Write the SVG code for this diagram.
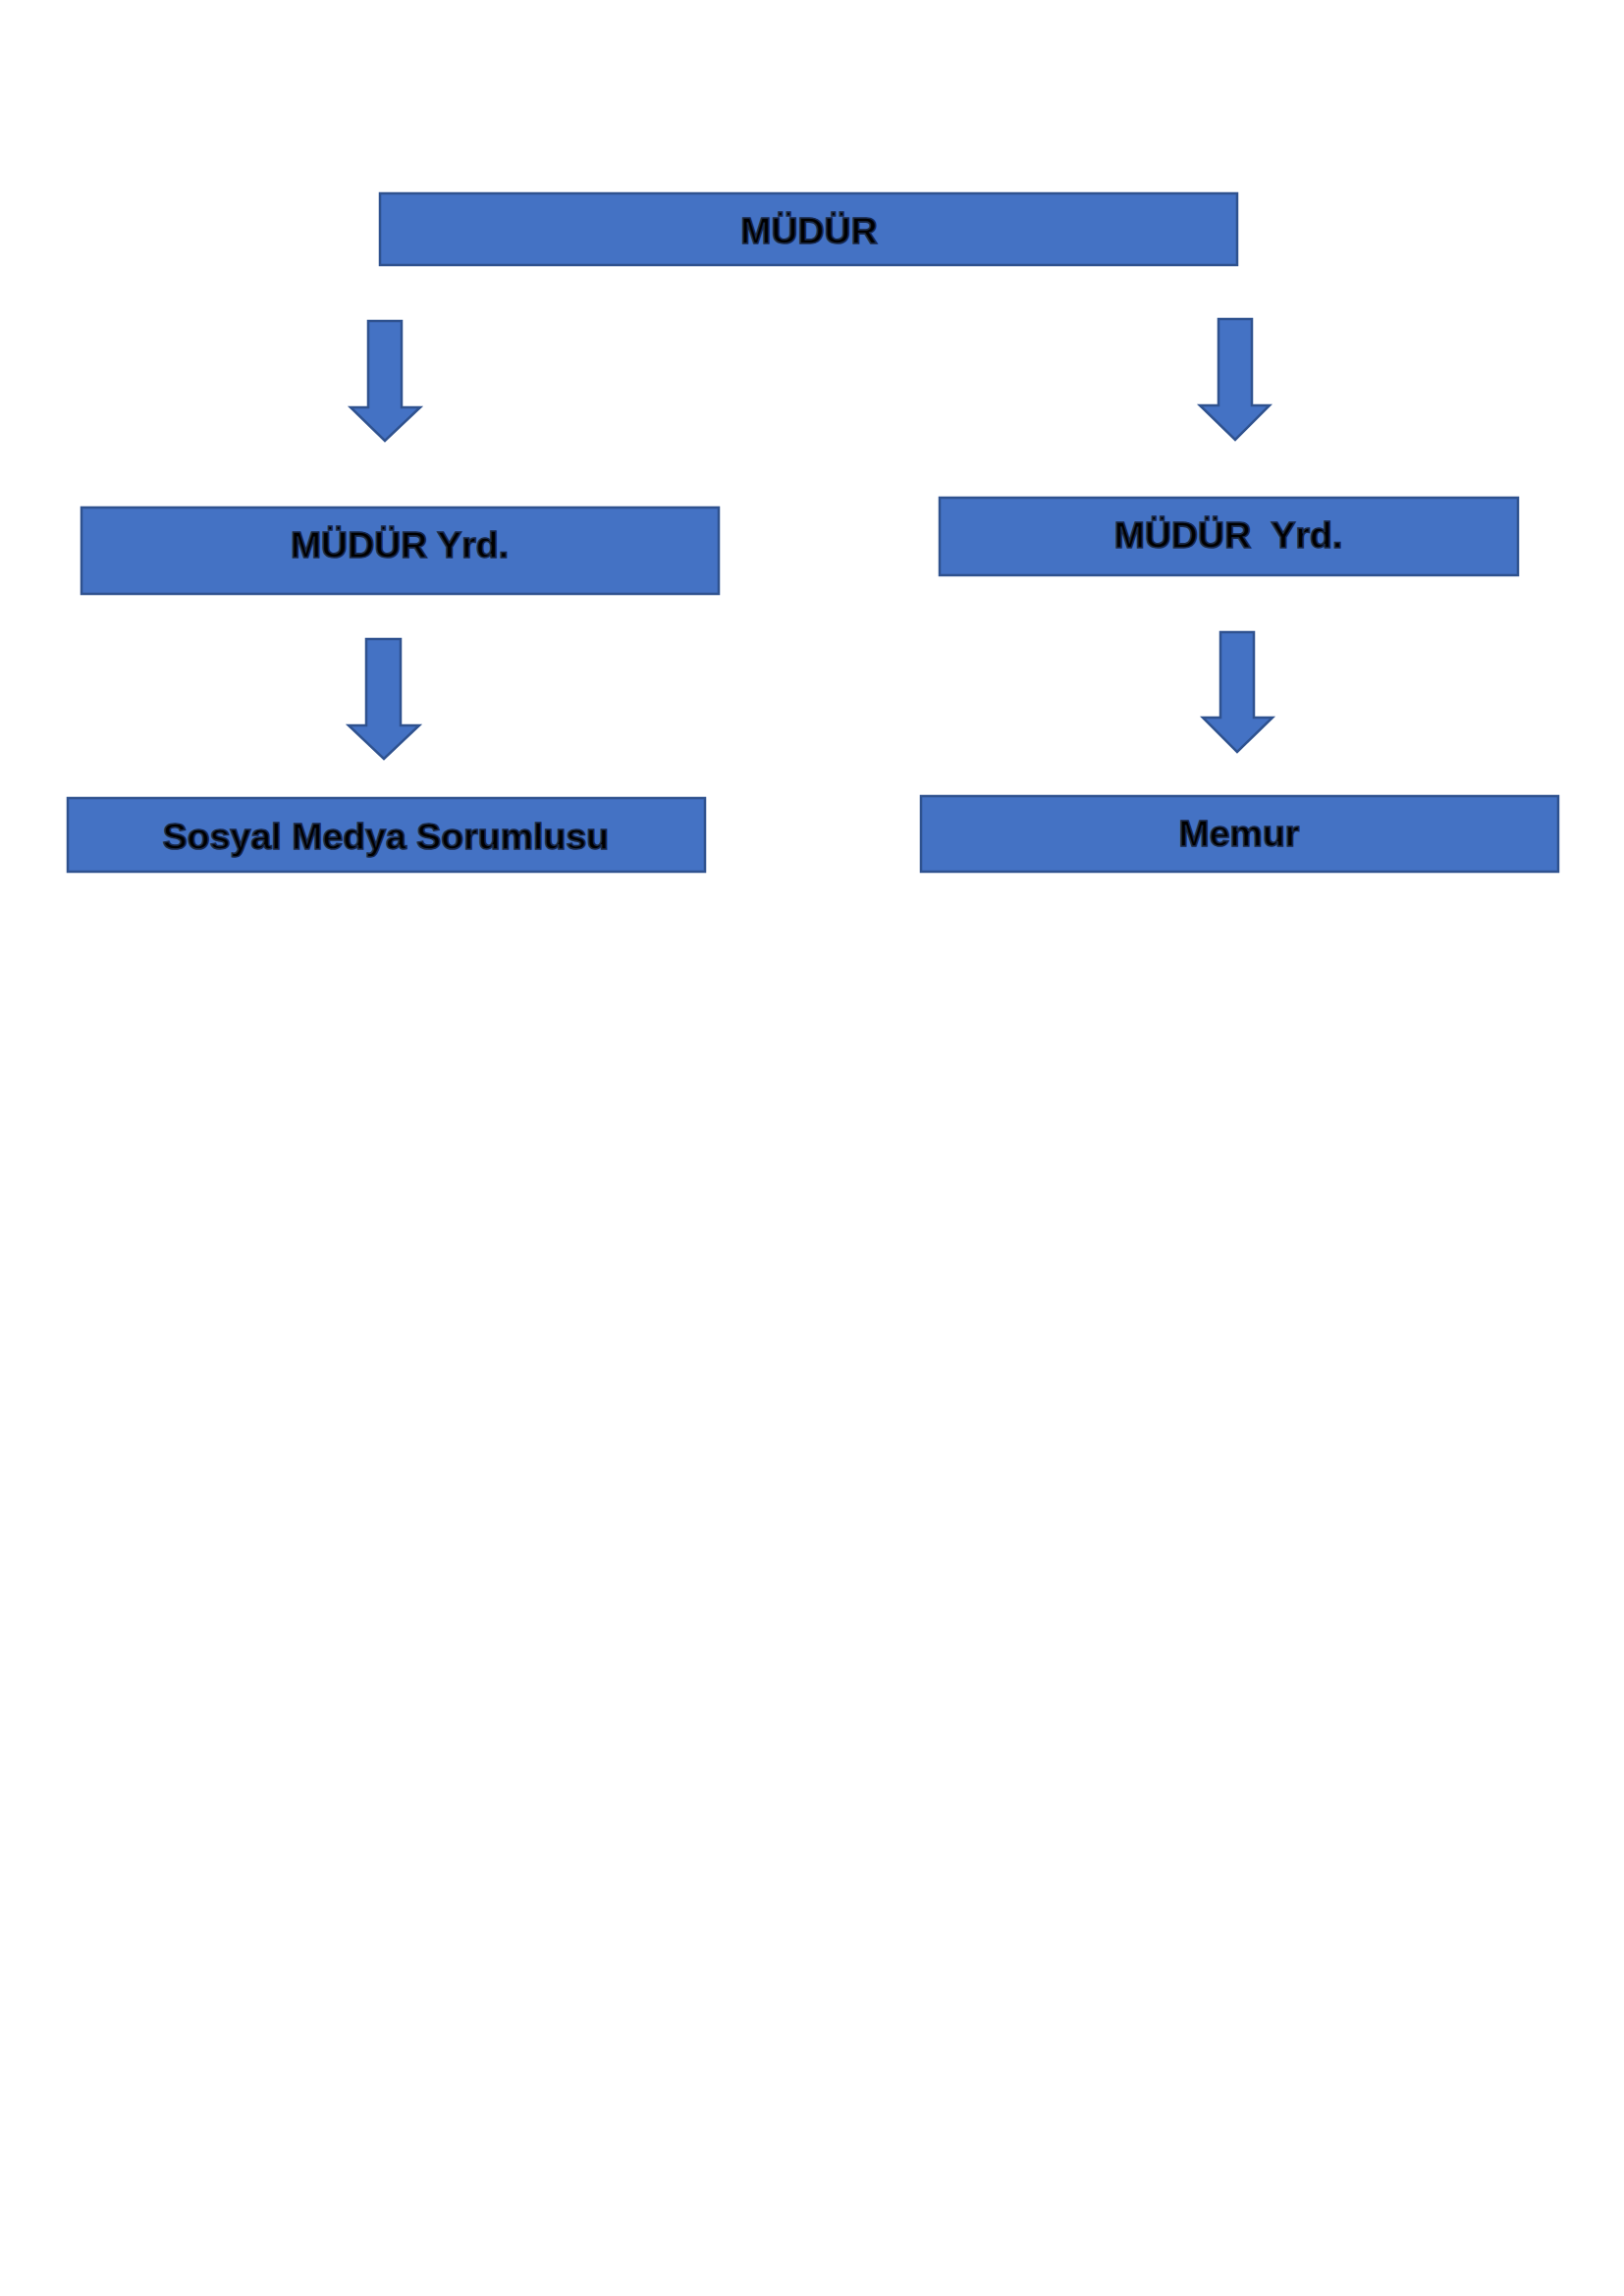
<svg xmlns="http://www.w3.org/2000/svg" width="1654" height="2339" viewBox="0 0 1654 2339">
<style>
.box{fill:#4472C4;stroke:#2F528F;stroke-width:2.5}
.arr{fill:#4472C4;stroke:#2F528F;stroke-width:2.5;stroke-linejoin:miter}
.lbl{font-family:"Liberation Sans",Arial,sans-serif;font-weight:bold;font-size:37.5px;fill:#000;stroke:#1a2a4a;stroke-width:1.6;text-anchor:middle}
</style>
<rect width="1654" height="2339" fill="#fff"/>
<g id="mudur">
<rect class="box" x="387" y="197" width="873" height="73"/>
<text class="lbl" x="824" y="248">MÜDÜR</text>
</g>
<g id="yrd-left">
<rect class="box" x="83" y="517" width="649" height="88"/>
<text class="lbl" x="407" y="568">MÜDÜR Yrd.</text>
</g>
<g id="yrd-right">
<rect class="box" x="957" y="507" width="589" height="79"/>
<text class="lbl" x="1251" y="558" xml:space="preserve">MÜDÜR  Yrd.</text>
</g>
<g id="sosyal">
<rect class="box" x="69" y="813" width="649" height="75"/>
<text class="lbl" x="393" y="865">Sosyal Medya Sorumlusu</text>
</g>
<g id="memur">
<rect class="box" x="938" y="811" width="649" height="77"/>
<text class="lbl" x="1262" y="862">Memur</text>
</g>
<g id="connectors">
<polygon class="arr" points="375,327 409,327 409,415 428,415 392,449 357,415 375,415"/>
<polygon class="arr" points="1241,325 1275,325 1275,413 1293,413 1258,448 1222,413 1241,413"/>
<polygon class="arr" points="373,651 408,651 408,739 427,739 391,773 355,739 373,739"/>
<polygon class="arr" points="1243,644 1277,644 1277,731 1296,731 1260,766 1225,731 1243,731"/>
</g>
</svg>
